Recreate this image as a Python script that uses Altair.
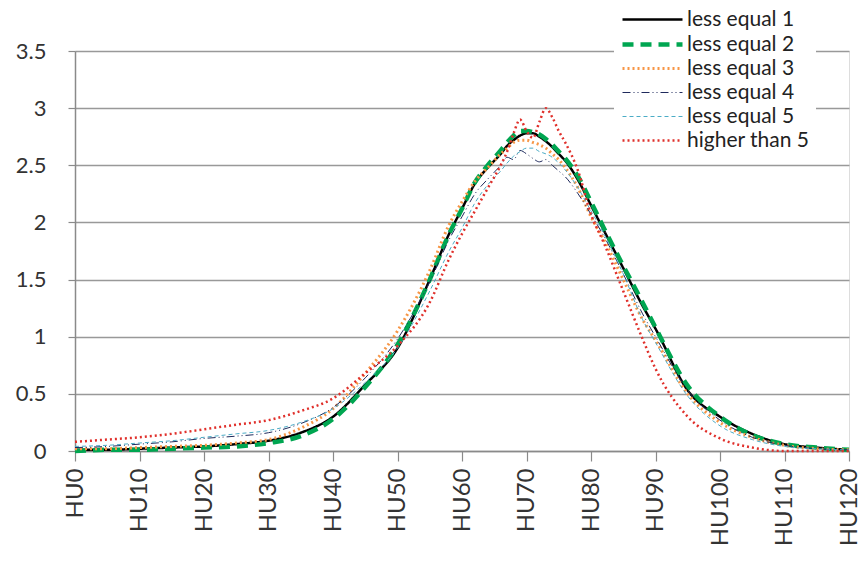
import altair as alt
import pandas as pd

hu = [0, 5, 10, 15, 20, 25, 30, 35, 40, 45, 50, 55, 58, 60, 62, 64, 66, 67, 68, 69,
      70, 71, 72, 73, 74, 75, 76, 78, 80, 82, 85, 88, 90, 95, 100, 105, 110, 115, 120]

le1 = [0.01, 0.01, 0.02, 0.03, 0.04, 0.06, 0.09, 0.16, 0.30, 0.58, 0.90, 1.50, 1.90, 2.12, 2.34, 2.48, 2.60, 2.67, 2.72, 2.76,
       2.78, 2.78, 2.75, 2.71, 2.66, 2.60, 2.54, 2.37, 2.15, 1.93, 1.60, 1.27, 1.07, 0.53, 0.30, 0.15, 0.06, 0.03, 0.01]
le2 = [0.00, 0.01, 0.01, 0.02, 0.03, 0.04, 0.07, 0.13, 0.28, 0.56, 0.93, 1.50, 1.90, 2.12, 2.35, 2.50, 2.63, 2.70, 2.76, 2.80,
       2.80, 2.79, 2.77, 2.73, 2.68, 2.62, 2.56, 2.40, 2.18, 1.95, 1.62, 1.30, 1.08, 0.57, 0.30, 0.14, 0.06, 0.03, 0.01]
le3 = [0.02, 0.02, 0.03, 0.04, 0.05, 0.07, 0.10, 0.20, 0.37, 0.68, 1.05, 1.58, 1.98, 2.18, 2.36, 2.48, 2.60, 2.65, 2.70, 2.72,
       2.72, 2.70, 2.68, 2.65, 2.60, 2.55, 2.48, 2.30, 2.05, 1.85, 1.50, 1.15, 0.97, 0.50, 0.25, 0.12, 0.05, 0.02, 0.01]
le4 = [0.03, 0.04, 0.06, 0.08, 0.11, 0.13, 0.16, 0.24, 0.38, 0.64, 0.98, 1.48, 1.85, 2.05, 2.25, 2.38, 2.50, 2.57, 2.55, 2.63,
       2.60, 2.56, 2.53, 2.55, 2.50, 2.45, 2.40, 2.25, 2.07, 1.88, 1.55, 1.20, 1.00, 0.53, 0.27, 0.12, 0.05, 0.02, 0.01]
le5 = [0.04, 0.05, 0.07, 0.09, 0.12, 0.15, 0.18, 0.25, 0.37, 0.60, 0.90, 1.40, 1.75, 1.95, 2.17, 2.33, 2.45, 2.52, 2.58, 2.62,
       2.65, 2.65, 2.62, 2.60, 2.57, 2.52, 2.46, 2.30, 2.10, 1.90, 1.55, 1.15, 0.95, 0.48, 0.22, 0.10, 0.04, 0.02, 0.01]
hi5 = [0.08, 0.10, 0.12, 0.15, 0.19, 0.23, 0.27, 0.35, 0.46, 0.68, 0.92, 1.30, 1.68, 1.90, 2.10, 2.30, 2.50, 2.62, 2.78, 2.90,
       2.80, 2.74, 2.88, 3.00, 2.92, 2.80, 2.70, 2.45, 2.07, 1.82, 1.40, 0.98, 0.72, 0.30, 0.11, 0.03, 0.00, 0.00, 0.00]

series_names = ["less equal 1", "less equal 2", "less equal 3", "less equal 4", "less equal 5", "higher than 5"]
series_values = [le1, le2, le3, le4, le5, hi5]

colors = ["#000000", "#00A651", "#F79646", "#1F2A5C", "#4BACC6", "#E0302B"]
dashes = [[1, 0], [11, 7], [2, 3], [8, 3, 1, 3, 1, 3], [4, 3], [2, 3]]
widths = [2.5, 4.5, 3, 1, 1, 2.5]

rows = []
for name, vals in zip(series_names, series_values):
    for x, v in zip(hu, vals):
        rows.append({"hu": x, "value": v, "series": name})
df = pd.DataFrame(rows)

font = "Lato"
legend = alt.Legend(
    orient="none", legendX=539, legendY=-49, title=None,
    fillColor="white", padding=6, symbolType="M-1,0H5", symbolSize=400,
    symbolFillColor="transparent",
    labelFontSize=21, labelFont=font, labelColor="#222222", rowPadding=2,
    labelOffset=42, offset=0,
)

chart = alt.Chart(df).mark_line(interpolate="monotone", strokeCap="butt").encode(
    x=alt.X("hu:Q", scale=alt.Scale(domain=[0, 120], nice=False, zero=False),
            axis=alt.Axis(values=list(range(0, 121, 10)), labelExpr="'HU' + datum.value",
                          labelAngle=-90, labelAlign="right", labelBaseline="middle",
                          grid=False, title=None, tickSize=10, labelPadding=7,
                          labelFontSize=24, labelFont=font, labelColor="#333333",
                          domainColor="#8a8a8a", tickColor="#8a8a8a", domainWidth=1.5, tickWidth=1.2)),
    y=alt.Y("value:Q", scale=alt.Scale(domain=[0, 3.5], nice=False),
            axis=alt.Axis(values=[0, 0.5, 1, 1.5, 2, 2.5, 3, 3.5], format="~g", title=None,
                          tickSize=7, labelPadding=22, labelFontSize=22, labelFont=font,
                          labelColor="#333333", gridColor="#999999", gridWidth=1.5,
                          domainColor="#8a8a8a", tickColor="#8a8a8a", domainWidth=1.5, tickWidth=1.2)),
    color=alt.Color("series:N", scale=alt.Scale(domain=series_names, range=colors), legend=legend),
    strokeDash=alt.StrokeDash("series:N", scale=alt.Scale(domain=series_names, range=dashes), legend=legend),
    strokeWidth=alt.StrokeWidth("series:N", scale=alt.Scale(type="ordinal", domain=series_names, range=widths), legend=legend),
).properties(
    width=774, height=400,
    autosize=alt.AutoSizeParams(type="none"),
    padding={"left": 75, "top": 51, "right": 9, "bottom": 114},
).configure_view(stroke=None).configure(background="white")

chart.save("out.html", embed_options={"renderer": "svg", "actions": False})
